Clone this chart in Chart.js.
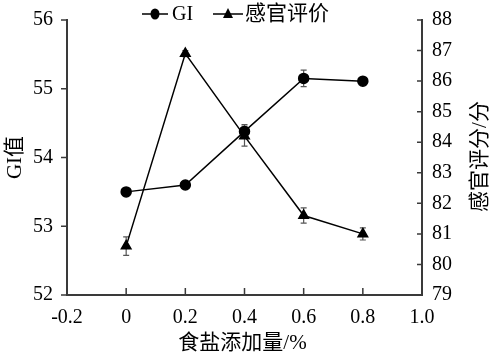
<!DOCTYPE html>
<html>
<head>
<meta charset="utf-8">
<script src="https://cdn.jsdelivr.net/npm/chart.js@4.4.1/dist/chart.umd.min.js"></script>
<style>
html,body{margin:0;padding:0;background:#fff;}
#wrap{width:492px;height:362px;position:relative;}
</style>
</head>
<body>
<div id="wrap"><canvas id="c" width="492" height="362"></canvas></div>
<script>
// ---- data ----
const saltLevels = [0, 0.2, 0.4, 0.6, 0.8];
const giValues = [53.50, 53.60, 54.38, 55.15, 55.11];
const giErrors = [0.04, 0.04, 0.10, 0.12, 0.04];
const sensoryValues = [80.6, 86.9, 84.2, 81.6, 81.0];
const sensoryErrors = [0.30, 0.10, 0.33, 0.25, 0.20];
const xTickLabels = ['-0.2', '0', '0.2', '0.4', '0.6', '0.8', '1.0'];
const xTickValues = [-0.2, 0, 0.2, 0.4, 0.6, 0.8, 1.0];
const seriesNames = ['GI', '感官评价'];
const xTitle = '食盐添加量/%';
const yLeftTitle = 'GI值';
const yRightTitle = '感官评分/分';

const SERIF = "'Liberation Serif', 'Times New Roman', 'Noto Sans CJK SC', serif";
const AXIS_COLOR = '#3a3a3a';

const toPoints = (xs, ys) => xs.map((x, i) => ({x: x, y: ys[i]}));

const hiddenGrid = (len) => ({
  display: true, drawOnChartArea: false, drawTicks: true,
  tickLength: len, color: 'rgba(0,0,0,0)'
});

const customPlugin = {
  id: 'custom',
  beforeDatasetsDraw(chart) {
    const ctx = chart.ctx;
    const xs = chart.scales.x;
    const sets = [
      {scale: chart.scales.y, vals: giValues, errs: giErrors},
      {scale: chart.scales.y2, vals: sensoryValues, errs: sensoryErrors}
    ];
    ctx.save();
    ctx.strokeStyle = '#555';
    ctx.lineWidth = 1.2;
    sets.forEach(s => {
      saltLevels.forEach((x, i) => {
        const px = xs.getPixelForValue(x);
        const top = s.scale.getPixelForValue(s.vals[i] + s.errs[i]);
        const bot = s.scale.getPixelForValue(s.vals[i] - s.errs[i]);
        ctx.beginPath();
        ctx.moveTo(px, top); ctx.lineTo(px, bot);
        ctx.moveTo(px - 3, top); ctx.lineTo(px + 3, top);
        ctx.moveTo(px - 3, bot); ctx.lineTo(px + 3, bot);
        ctx.stroke();
      });
    });
    ctx.restore();
  },
  afterDraw(chart) {
    const ctx = chart.ctx;
    const a = chart.chartArea;
    const xs = chart.scales.x, y1 = chart.scales.y, y2 = chart.scales.y2;
    ctx.save();
    ctx.strokeStyle = AXIS_COLOR;
    ctx.lineWidth = 2;
    ctx.beginPath();
    ctx.moveTo(a.left, a.top - 1); ctx.lineTo(a.left, a.bottom + 1);
    ctx.moveTo(a.left - 1, a.bottom); ctx.lineTo(a.right + 1, a.bottom);
    ctx.moveTo(a.right, a.top - 1); ctx.lineTo(a.right, a.bottom + 1);
    ctx.stroke();
    ctx.lineWidth = 1.5;
    ctx.beginPath();
    y1.ticks.forEach(t => {
      const p = y1.getPixelForValue(t.value);
      ctx.moveTo(a.left - 6, p); ctx.lineTo(a.left, p);
    });
    y2.ticks.forEach(t => {
      const p = y2.getPixelForValue(t.value);
      ctx.moveTo(a.right - 5, p); ctx.lineTo(a.right, p);
    });
    xs.ticks.forEach(t => {
      const p = xs.getPixelForValue(t.value);
      ctx.moveTo(p, a.bottom - 7); ctx.lineTo(p, a.bottom);
    });
    ctx.stroke();

    ctx.fillStyle = '#000';
    ctx.font = '21px ' + SERIF;
    ctx.textAlign = 'center';
    ctx.textBaseline = 'middle';
    ctx.fillText(xTitle, (a.left + a.right) / 2 - 2, 343);
    ctx.save();
    ctx.translate(15, (a.top + a.bottom) / 2);
    ctx.rotate(-Math.PI / 2);
    ctx.fillText(yLeftTitle, 0, 0);
    ctx.restore();
    ctx.save();
    ctx.translate(480, (a.top + a.bottom) / 2 - 1);
    ctx.rotate(-Math.PI / 2);
    ctx.fillText(yRightTitle, 0, 0);
    ctx.restore();

    const ly = 14;
    ctx.strokeStyle = '#000';
    ctx.lineWidth = 1.5;
    ctx.beginPath();
    ctx.moveTo(142, ly); ctx.lineTo(168, ly);
    ctx.moveTo(213, ly); ctx.lineTo(243, ly);
    ctx.stroke();
    ctx.fillStyle = '#000';
    ctx.beginPath();
    ctx.ellipse(155, ly, 4.5, 5.5, 0, 0, Math.PI * 2);
    ctx.fill();
    ctx.beginPath();
    ctx.moveTo(228, ly - 6); ctx.lineTo(233, ly + 4); ctx.lineTo(223, ly + 4);
    ctx.closePath();
    ctx.fill();
    ctx.textAlign = 'left';
    ctx.textBaseline = 'middle';
    ctx.font = '20px ' + SERIF;
    ctx.fillText(seriesNames[0], 172, ly + 1);
    ctx.font = '21px ' + SERIF;
    ctx.fillText(seriesNames[1], 245, ly);
    ctx.restore();
  }
};

new Chart(document.getElementById('c'), {
  type: 'scatter',
  data: {
    datasets: [
      {
        label: seriesNames[0],
        data: toPoints(saltLevels, giValues),
        yAxisID: 'y',
        showLine: true,
        borderColor: '#000',
        backgroundColor: '#000',
        borderWidth: 1.5,
        pointStyle: 'circle',
        pointRadius: 5,
        pointHoverRadius: 5
      },
      {
        label: seriesNames[1],
        data: toPoints(saltLevels, sensoryValues),
        yAxisID: 'y2',
        showLine: true,
        borderColor: '#000',
        backgroundColor: '#000',
        borderWidth: 1.5,
        pointStyle: 'triangle',
        pointRadius: 5.5,
        pointHoverRadius: 5.5
      }
    ]
  },
  options: {
    responsive: false,
    animation: false,
    devicePixelRatio: 1,
    layout: {padding: {top: 20, left: 0, right: 0, bottom: 0}},
    plugins: {legend: {display: false}, tooltip: {enabled: false}},
    scales: {
      x: {
        type: 'linear',
        min: -0.2, max: 1.0,
        grid: hiddenGrid(11),
        border: {display: false},
        afterBuildTicks: s => { s.ticks = xTickValues.map(v => ({value: v})); },
        afterFit: s => { s.height = 67; },
        ticks: {
          padding: 0,
          color: '#000',
          font: {family: SERIF, size: 20},
          maxRotation: 0,
          autoSkip: false,
          callback: (v, i) => xTickLabels[i]
        }
      },
      y: {
        position: 'left',
        min: 52, max: 56,
        grid: hiddenGrid(14),
        border: {display: false},
        afterFit: s => { s.width = 67; },
        ticks: {stepSize: 1, padding: 0, color: '#000', font: {family: SERIF, size: 20}}
      },
      y2: {
        position: 'right',
        min: 79, max: 88,
        grid: hiddenGrid(10),
        border: {display: false},
        afterFit: s => { s.width = 70; },
        ticks: {stepSize: 1, padding: 0, color: '#000', font: {family: SERIF, size: 20}}
      }
    }
  },
  plugins: [customPlugin]
});
</script>
</body>
</html>
